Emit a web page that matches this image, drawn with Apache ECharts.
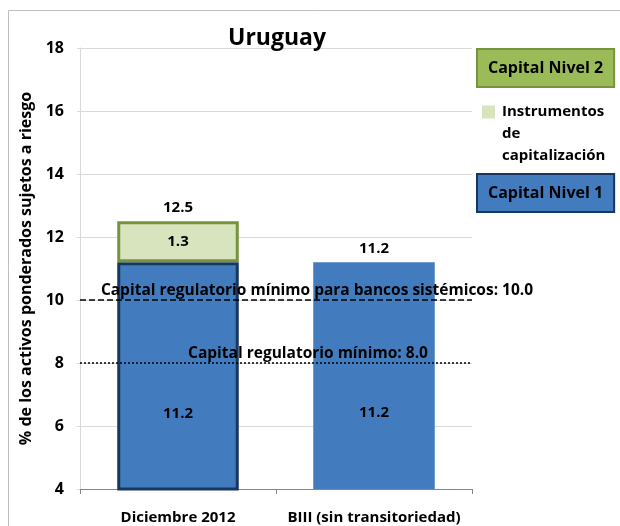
<!DOCTYPE html>
<html>
<head>
<meta charset="utf-8" />
<script src="https://cdn.jsdelivr.net/npm/echarts@6/dist/echarts.min.js"></script>
<title>Uruguay</title>
<style>
  body { margin: 0; background: #fff; }
  #main { width: 620px; height: 526px; }
</style>
</head>
<body>
<div id="main"></div>
<script type="text/javascript">
// datos
var categorias = ['Diciembre 2012', 'BIII (sin transitoriedad)'];
var nivel1 = [11.2, 11.2];
var instrumentos = [1.3, null];
var totales = [12.5, 11.2];
var minSistemicos = 10.0;
var minRegulatorio = 8.0;

var fuente = 'Open Sans';
var azul = '#427CBE';
var verdeClaro = '#D7E4BD';

var myChart = echarts.init(document.getElementById('main'));

myChart.setOption({
    animation: false,
    textStyle: { fontFamily: fuente },
    title: {
        text: 'Uruguay',
        left: 223,
        top: 22,
        textStyle: { fontSize: 23, fontWeight: 'bold', color: '#000', fontFamily: fuente }
    },
    graphic: [
        { type: 'rect', shape: { x: 8.5, y: 10.5, width: 700, height: 600 },
          style: { fill: 'none', stroke: '#BFBFBF', lineWidth: 1 }, silent: true }
    ],
    grid: { left: 80, right: 148, top: 48, bottom: 37 },
    legend: [
        {   // caja verde
            data: ['Capital Nivel 2'],
            left: 473, top: 48, padding: 0,
            icon: 'none', itemWidth: 0, itemHeight: 36,
            selectedMode: false,
            textStyle: {
                fontSize: 16, fontWeight: 'bold', color: '#000', fontFamily: fuente,
                lineHeight: 18,
                backgroundColor: '#9BBB59', borderColor: '#77933C', borderWidth: 2,
                padding: [9, 10, 9, 10]
            }
        },
        {
            data: ['Instrumentos de capitalización'],
            left: 477, top: 101, padding: 0,
            icon: 'none', itemWidth: 0, itemHeight: 13,
            selectedMode: false,
            formatter: function () {
                return '{sq|}{g|}{t|Instrumentos}\n{sp|}{g|}{t|de}\n{sp|}{g|}{t|capitalización}';
            },
            textStyle: {
                fontSize: 15, fontWeight: 'bold', color: '#000', fontFamily: fuente,
                lineHeight: 22,
                rich: {
                    sq: { width: 13, height: 13, backgroundColor: verdeClaro },
                    sp: { width: 13, height: 13 },
                    g: { width: 7 },
                    t: { fontSize: 15, fontWeight: 'bold', color: '#000', fontFamily: fuente, lineHeight: 22 }
                }
            }
        },
        {   // caja azul
            data: ['Capital Nivel 1'],
            left: 473, top: 173, padding: 0,
            icon: 'none', itemWidth: 0, itemHeight: 36,
            selectedMode: false,
            textStyle: {
                fontSize: 16, fontWeight: 'bold', color: '#000', fontFamily: fuente,
                lineHeight: 18,
                backgroundColor: azul, borderColor: '#17375E', borderWidth: 2,
                padding: [9, 10, 9, 10]
            }
        }
    ],
    xAxis: {
        type: 'category',
        data: categorias,
        axisLine: { lineStyle: { color: '#868686' } },
        axisTick: { show: true, length: 5, lineStyle: { color: '#868686' } },
        axisLabel: { interval: 0, fontSize: 15, fontWeight: 'bold', color: '#000', margin: 21, fontFamily: fuente }
    },
    yAxis: {
        type: 'value',
        min: 4, max: 18, interval: 2,
        name: '% de los activos ponderados sujetos a riesgo',
        nameLocation: 'middle',
        nameGap: 44,
        nameTextStyle: { fontSize: 16, fontWeight: 'bold', color: '#000', fontFamily: fuente },
        axisLine: { show: true, lineStyle: { color: '#D9D9D9' } },
        axisTick: { show: true, length: 3, lineStyle: { color: '#D9D9D9' } },
        axisLabel: { fontSize: 16, fontWeight: 'bold', color: '#000', margin: 16, fontFamily: fuente },
        splitLine: { lineStyle: { color: '#D9D9D9' } }
    },
    series: [
        {
            name: 'Capital Nivel 1',
            type: 'bar',
            stack: 'a',
            barWidth: '62%',
            itemStyle: { color: azul },
            data: [
                { value: nivel1[0], itemStyle: { borderColor: '#17375E', borderWidth: 3 } },
                nivel1[1]
            ],
            label: {
                show: true, position: 'inside', offset: [0, 37],
                fontSize: 15, fontWeight: 'bold', color: '#000', fontFamily: fuente,
                formatter: function (p) { return p.value.toFixed(1); }
            },
            markLine: {
                silent: true,
                symbol: 'none',
                data: [
                    {
                        yAxis: minSistemicos,
                        lineStyle: { color: '#000', type: [6, 3], width: 1.5 },
                        label: {
                            position: 'insideMiddleTop', distance: 1,
                            padding: [0, 0, 0, 82],
                            formatter: 'Capital regulatorio mínimo para bancos sistémicos: ' + minSistemicos.toFixed(1)
                        }
                    },
                    {
                        yAxis: minRegulatorio,
                        lineStyle: { color: '#000', type: [2, 2], width: 1.5 },
                        label: {
                            position: 'insideMiddleTop', distance: 1,
                            padding: [0, 0, 0, 64],
                            formatter: 'Capital regulatorio mínimo: ' + minRegulatorio.toFixed(1)
                        }
                    }
                ],
                label: { fontSize: 15.5, fontWeight: 'bold', color: '#000', fontFamily: fuente }
            }
        },
        {
            name: 'Instrumentos de capitalización',
            type: 'bar',
            stack: 'a',
            itemStyle: { color: verdeClaro, borderColor: '#77933C', borderWidth: 3 },
            data: instrumentos,
            label: {
                show: true, position: 'inside',
                fontSize: 15, fontWeight: 'bold', color: '#000', fontFamily: fuente,
                formatter: function (p) { return p.value.toFixed(1); }
            }
        },
        {
            name: 'Capital Nivel 2',
            type: 'bar',
            stack: 'a',
            itemStyle: { color: '#9BBB59', borderColor: '#77933C' },
            data: []
        },
        {
            name: 'Total',
            type: 'line',
            symbol: 'circle',
            symbolSize: 0,
            lineStyle: { width: 0, opacity: 0 },
            data: totales,
            label: {
                show: true, position: 'top', distance: 6,
                fontSize: 15, fontWeight: 'bold', color: '#000', fontFamily: fuente,
                formatter: function (p) { return p.value.toFixed(1); }
            }
        }
    ]
});
</script>
</body>
</html>
